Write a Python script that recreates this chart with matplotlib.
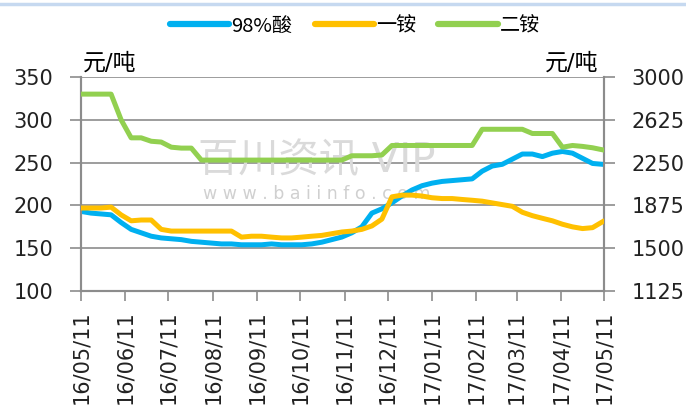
import matplotlib
matplotlib.use("Agg")
import matplotlib.pyplot as plt
import matplotlib.dates as mdates
from matplotlib.lines import Line2D
import pandas as pd

plt.rcParams['font.family'] = ['DejaVu Sans', 'Noto Sans CJK SC']

start_date = "2016-05-11"
n_weeks = 53
month_ticks = ["2016-05-11", "2016-06-11", "2016-07-11", "2016-08-11", "2016-09-11",
               "2016-10-11", "2016-11-11", "2016-12-11", "2017-01-11", "2017-02-11",
               "2017-03-11", "2017-04-11", "2017-05-11"]

acid98 = [193, 191, 190, 189, 180, 172, 168, 164, 162, 161, 160, 158, 157, 156, 155, 155,
          154, 154, 154, 155, 154, 154, 154, 155, 157, 160, 163, 168, 175, 191, 196, 203,
          211, 218, 223, 226, 228, 229, 230, 231, 240, 246, 248, 254, 260, 260, 257, 261,
          263, 261, 255, 249, 248]
map_price = [1852, 1852, 1852, 1860, 1792, 1740, 1747, 1747, 1665, 1650, 1650, 1650, 1650,
             1650, 1650, 1650, 1597, 1605, 1605, 1597, 1590, 1590, 1597, 1605, 1612, 1627,
             1642, 1650, 1665, 1695, 1755, 1950, 1965, 1965, 1957, 1942, 1935, 1935, 1927,
             1920, 1912, 1897, 1882, 1867, 1815, 1785, 1762, 1740, 1710, 1687, 1672, 1680, 1732]
dap_price = [2850, 2850, 2850, 2850, 2625, 2467, 2467, 2437, 2430, 2385, 2377, 2377, 2272,
             2272, 2272, 2272, 2272, 2272, 2272, 2272, 2272, 2272, 2272, 2272, 2272, 2272,
             2272, 2310, 2310, 2310, 2317, 2400, 2400, 2400, 2400, 2400, 2400, 2400, 2400,
             2400, 2542, 2542, 2542, 2542, 2542, 2505, 2505, 2505, 2385, 2400, 2392, 2380, 2362]

series_names = ["98%酸", "一铵", "二铵"]
left_ticks = [100, 150, 200, 250, 300, 350]
right_ticks = [1125, 1500, 1875, 2250, 2625, 3000]
unit = "元/吨"

dates = pd.date_range(start_date, periods=n_weeks, freq="7D")
tick_dates = pd.to_datetime(month_ticks)

c_blue, c_yellow, c_green = "#00B0F0", "#FFC000", "#92D050"
grid_c = "#8c8c8c"
fs = 15
lw = 3.6

fig = plt.figure(figsize=(6.86, 4.12), dpi=100)
ax = fig.add_axes([81/686, 1-291/412, (604-81)/686, (291-77)/412])
ax2 = ax.twinx()

ax.plot(dates, acid98, color=c_blue, lw=lw, solid_joinstyle='round', zorder=3)
ax2.plot(dates, map_price, color=c_yellow, lw=lw, solid_joinstyle='round', zorder=3)
ax2.plot(dates, dap_price, color=c_green, lw=lw, solid_joinstyle='round', zorder=4)

ax.set_ylim(left_ticks[0], left_ticks[-1])
ax.set_yticks(left_ticks)
ax2.set_ylim(right_ticks[0], right_ticks[-1])
ax2.set_yticks(right_ticks)
ax.set_xlim(tick_dates[0], tick_dates[-1])
ax.set_xticks(tick_dates)
ax.xaxis.set_major_formatter(mdates.DateFormatter("%y/%m/%d"))

ax.yaxis.grid(True, color=grid_c, lw=1.2, zorder=0)
ax.set_axisbelow(True)

for a in (ax, ax2):
    a.spines["top"].set_visible(False)
    for s in ("left", "right", "bottom"):
        a.spines[s].set_color(grid_c)
        a.spines[s].set_linewidth(1.5)

ax.tick_params(axis='y', direction='out', length=8, width=1.2, color=grid_c,
               labelsize=fs, pad=12, labelcolor='#222222')
ax2.tick_params(axis='y', direction='out', length=8, width=1.2, color=grid_c,
                labelsize=fs, pad=12, labelcolor='#222222')
ax.tick_params(axis='x', direction='out', length=7, width=1.2, color=grid_c,
               labelsize=fs, pad=7, labelcolor='#222222', labelrotation=90)

# watermark
ax.text(0.45, 0.61, "百川资讯 VIP", transform=ax.transAxes, ha='center', va='center',
        fontsize=29, color='#dadada', zorder=1)
ax.text(0.45, 0.455, "w w w . b a i i n f o . c o m", transform=ax.transAxes, ha='center',
        va='center', fontsize=12.5, color='#d0d0d0', zorder=1)

# unit labels
fig.text(83/686, 1-63/412, unit, fontsize=16.5, ha='left', va='center')
fig.text(598/686, 1-63/412, unit, fontsize=16.5, ha='right', va='center')

handles = [Line2D([], [], color=c, lw=4.5, solid_capstyle='round') for c in (c_blue, c_yellow, c_green)]
fig.legend(handles, series_names, loc='center', bbox_to_anchor=(355/686, 1-26/412), ncol=3,
           frameon=False, prop={'family': 'Noto Sans CJK SC', 'size': 14.5},
           handlelength=2.95, handletextpad=0.1, columnspacing=1.1)

fig.add_artist(Line2D([0, 1], [1-4/412, 1-4/412], color='#c6d9f0', lw=2.5))

fig.savefig("out.png", dpi=100)
